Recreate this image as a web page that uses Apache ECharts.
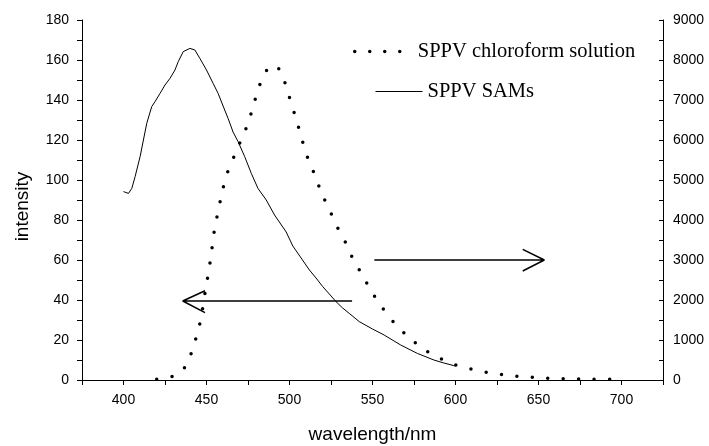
<!DOCTYPE html>
<html lang="en">
<head>
    <meta charset="UTF-8">
    <title>SPPV emission</title>
    <style>
        html, body { margin: 0; padding: 0; background: #fff; }
        #main { width: 709px; height: 446px; }
    </style>
</head>
<body>
    <div id="main"></div>
</body>
<script src="https://cdn.jsdelivr.net/npm/echarts@6/dist/echarts.min.js"></script>
<script>
    // SPPV SAMs (left axis)
    var samWave = [400, 403, 405, 407, 410, 412, 414, 417, 419, 422, 425, 428, 431, 433, 436, 440, 443, 446, 450, 454,
        457, 460, 463, 466, 469, 473, 477, 481, 486, 491, 498, 502, 507, 512, 516, 520, 524, 528, 532, 536,
        542, 550, 557, 567, 577, 587, 593, 599, 600];
    var samVal = [94.2, 93.3, 95.8, 101.7, 111.7, 120, 128.3, 136.7, 139.2, 143.3, 147.5, 150.8, 155, 159.2, 164.2, 165.8, 165, 160.8, 155, 148.3,
        143.3, 137, 130.8, 124, 119.2, 111.7, 103.3, 95.8, 90, 82.5, 74, 67, 61, 55, 51, 46.7, 43, 39.2, 36, 33.3,
        29.2, 25.5, 22.5, 17.5, 13.3, 10, 8.5, 7.2, 7];

    // SPPV chloroform solution (right axis)
    var solWave = [420, 425, 430, 435, 438.7, 442, 445, 447.1, 448.5, 450.1, 451.7, 453.1, 454.3, 456, 458, 460.1, 462.8, 466.8, 470.8, 474.8,
        477.8, 480.6, 484.2, 487.5, 491, 494, 496.7, 499.7, 502.7, 505.5, 508.3, 511.3, 515.4, 519.4, 524.4, 529, 534, 538.4, 543.9, 549.1,
        555.5, 562.5, 571, 580.6, 590, 600, 610, 620, 630, 640, 650, 660, 670, 680, 690, 700];
    var solVal = [20, 50, 100, 230, 433, 833, 1233, 1642, 2025, 2417, 2817, 3225, 3625, 4010, 4417, 4817, 5208, 5608, 6000, 6392,
        6792, 7192, 7600, 7800, 7870, 7750, 7500, 7100, 6700, 6308, 5900, 5517, 5108, 4667, 4225, 3808, 3417, 3017, 2625, 2233,
        1833, 1458, 1100, 775, 558, 375, 267, 183, 125, 83, 58, 35, 30, 20, 20, 20];

    // arrows (annotation)
    var arrowLeftX = [537.7, 435.7, 449.1, 435.7, 449.1];
    var arrowLeftY = [39.5, 39.5, 44.65, 39.5, 33.65];
    var arrowRightX = [551.1, 653.5, 640.5, 653.5, 640.5];
    var arrowRightY = [3000, 3000, 3267, 3000, 2725];

    function zip(xs, ys) {
        return xs.map((x, i) => [x, ys[i]]);
    }

    var axisFont = 'Liberation Sans, Arial, sans-serif';
    var legendFont = 'Liberation Serif, Times New Roman, serif';
    var black = '#000';
    var dotted = [0, 15.5];

    var chart = echarts.init(document.getElementById('main'));
    var option = {
        animation: false,
        backgroundColor: '#fff',
        grid: { left: 82, right: 46, top: 20, bottom: 66, containLabel: false, outerBoundsMode: 'none' },
        legend: [
            {
                data: ['SPPV chloroform solution'],
                left: 353, top: 41, padding: 0,
                itemWidth: 58, itemHeight: 10,
                itemStyle: { opacity: 0 },
                lineStyle: { width: 3.5, type: [0, 15], cap: 'round', color: black },
                textStyle: { fontFamily: legendFont, fontSize: 20.5, color: black },
                selectedMode: false
            },
            {
                data: ['SPPV SAMs'],
                left: 375, top: 81, padding: 0,
                itemWidth: 47, itemHeight: 10,
                itemStyle: { opacity: 0 },
                lineStyle: { width: 1, color: black },
                textStyle: { fontFamily: legendFont, fontSize: 20.5, color: black },
                selectedMode: false
            }
        ],
        xAxis: [
            {
                type: 'value', position: 'bottom',
                min: 375, max: 725, interval: 25,
                name: 'wavelength/nm', nameLocation: 'middle', nameGap: 45,
                nameTextStyle: { fontFamily: axisFont, fontSize: 19, color: black },
                axisLine: { lineStyle: { color: black, width: 1 } },
                axisTick: { length: 5, lineStyle: { color: black } },
                axisLabel: {
                    margin: 13, fontFamily: axisFont, fontSize: 14, color: black,
                    formatter: function (v) { return v % 50 === 0 ? String(v) : ''; }
                },
                splitLine: { show: false }
            },
            {
                type: 'value', position: 'top',
                min: 375, max: 725, interval: 25,
                axisLine: { lineStyle: { color: black, width: 1 } },
                axisTick: { inside: true, length: 3, lineStyle: { color: black } },
                axisLabel: { show: false },
                splitLine: { show: false }
            }
        ],
        yAxis: [
            {
                type: 'value', position: 'left',
                min: 0, max: 180, interval: 20,
                name: 'intensity', nameLocation: 'middle', nameGap: 50,
                nameTextStyle: { fontFamily: axisFont, fontSize: 19, color: black, padding: [0, 13, 0, 0] },
                axisLine: { show: true, lineStyle: { color: black, width: 1 } },
                axisTick: { show: true, length: 5, lineStyle: { color: black } },
                minorTick: { show: true, splitNumber: 2, length: 5, lineStyle: { color: black } },
                axisLabel: { margin: 13, fontFamily: axisFont, fontSize: 14, color: black },
                splitLine: { show: false }
            },
            {
                type: 'value', position: 'right',
                min: 0, max: 9000, interval: 1000,
                axisLine: { show: true, lineStyle: { color: black, width: 1 } },
                axisTick: { show: true, inside: true, length: 4, lineStyle: { color: black } },
                minorTick: { show: true, splitNumber: 2, length: 4, lineStyle: { color: black } },
                axisLabel: {
                    margin: 10, fontFamily: axisFont, fontSize: 14, color: black,
                    formatter: function (v) { return String(v); }
                },
                splitLine: { show: false }
            }
        ],
        series: [
            {
                name: 'SPPV chloroform solution',
                type: 'line',
                xAxisIndex: 0, yAxisIndex: 1,
                data: zip(solWave, solVal),
                symbol: 'none',
                smooth: 0.3,
                lineStyle: { color: black, width: 3.5, type: dotted, cap: 'round' },
                itemStyle: { color: black }
            },
            {
                name: 'SPPV SAMs',
                type: 'line',
                xAxisIndex: 0, yAxisIndex: 0,
                data: zip(samWave, samVal),
                symbol: 'none',
                lineStyle: { color: black, width: 1 },
                itemStyle: { color: black }
            },
            {
                name: 'arrowLeft',
                type: 'line',
                xAxisIndex: 0, yAxisIndex: 0,
                data: zip(arrowLeftX, arrowLeftY),
                symbol: 'none', silent: true,
                lineStyle: { color: black, width: 1.5 }
            },
            {
                name: 'arrowRight',
                type: 'line',
                xAxisIndex: 0, yAxisIndex: 1,
                data: zip(arrowRightX, arrowRightY),
                symbol: 'none', silent: true,
                lineStyle: { color: black, width: 1.5 }
            }
        ]
    };
    chart.setOption(option);
</script>
</html>
